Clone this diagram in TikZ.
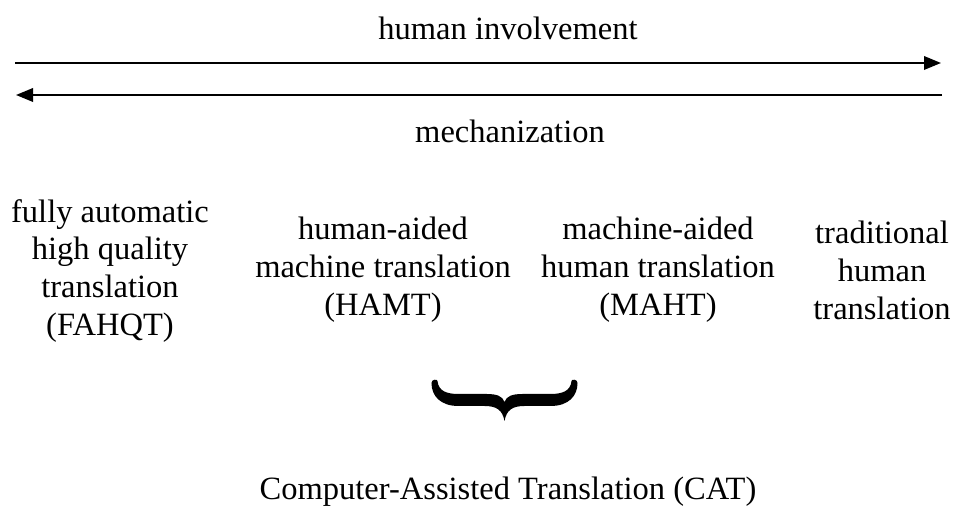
\documentclass[tikz,border=0pt]{standalone}
\usepackage{fontspec}
\setmainfont{Liberation Serif}
\usetikzlibrary{arrows.meta}

\tikzset{
  label text/.style={font=\fontsize{18.5}{21.6}\selectfont},
  column text/.style={label text, align=center, anchor=center},
  scale arrow/.style={line width=1.1pt, -{Triangle[length=0.34cm,width=0.27cm]}},
}

\begin{document}
\begin{tikzpicture}
  \useasboundingbox (0,0) rectangle (19.14,10.14);
  % the two opposite arrows
  \coordinate (invleft) at (0.30,8.88);
  \coordinate (invright) at (18.82,8.88);
  \coordinate (mechright) at (18.84,8.24);
  \coordinate (mechleft) at (0.32,8.24);
  \draw[scale arrow] (invleft) -- (invright);
  \draw[scale arrow] (mechright) -- (mechleft);
  \node[label text] (involvement) at (10.16,9.57) {human involvement};
  \node[label text] (mechanization) at (10.20,7.52) {mechanization};

  % kinds of translation
  \node[column text] (fahqt) at (2.20,4.72) {fully automatic\\high quality\\translation\\(FAHQT)};
  \node[column text] (hamt) at (7.66,4.74) {human-aided\\machine translation\\(HAMT)};
  \node[column text] (maht) at (13.16,4.74) {machine-aided\\human translation\\(MAHT)};
  \node[column text] (traditional) at (17.64,4.74) {traditional\\human\\translation};

  % brace under HAMT and MAHT
  \begin{scope}[shift={(10.09,2.14)}, x=0.02cm, y=-0.02cm]
    \fill (-67,-19) .. controls (-66,-9) and (-58,-6) .. (-46,-6)
      -- (-18,-6) .. controls (-8,-6) and (-2,-4) .. (0,2)
      .. controls (2,-4) and (8,-6) .. (18,-6)
      -- (46,-6) .. controls (58,-6) and (66,-9) .. (67,-19)
      .. controls (67,-21) and (73,-21) .. (73,-17)
      .. controls (73,-4) and (64,6) .. (46,6)
      -- (20,6) .. controls (8,6) and (2,10) .. (0,21)
      .. controls (-2,10) and (-8,6) .. (-20,6)
      -- (-46,6) .. controls (-64,6) and (-73,-4) .. (-73,-17)
      .. controls (-73,-21) and (-67,-21) .. (-67,-19) -- cycle;
  \end{scope}

  \node[label text] (cat) at (10.16,0.30) {Computer-Assisted Translation (CAT)};
\end{tikzpicture}
\end{document}
